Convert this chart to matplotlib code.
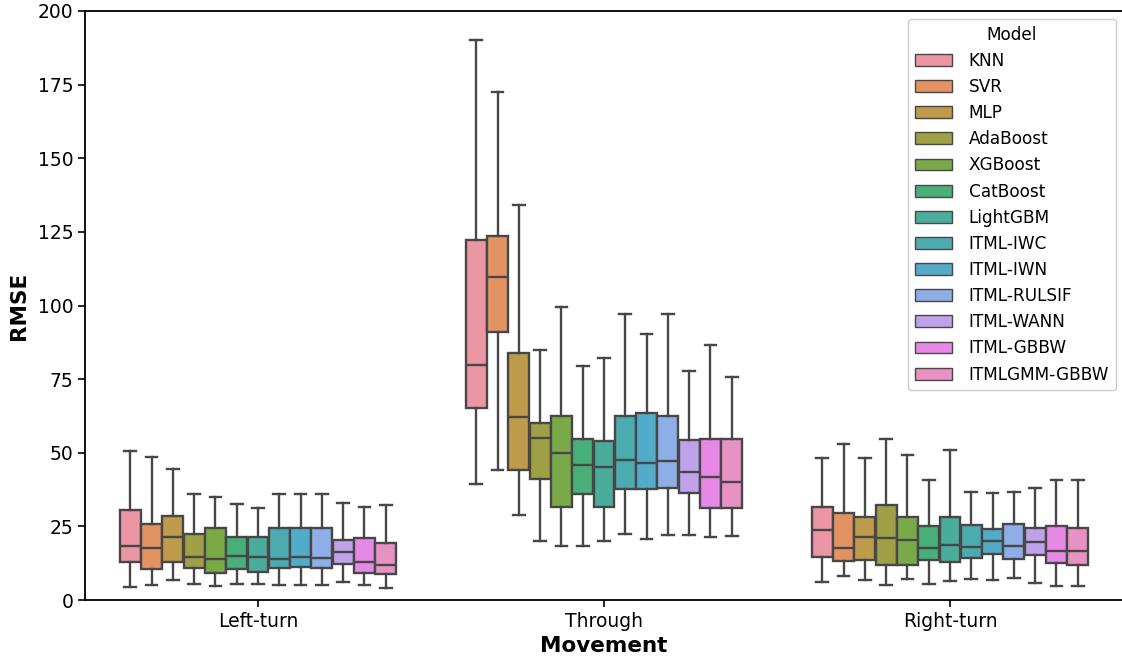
import numpy as np
import matplotlib
matplotlib.use("Agg")
import matplotlib.pyplot as plt
from matplotlib.patches import Patch
import seaborn as sns

movements = ["Left-turn", "Through", "Right-turn"]
models = ["KNN", "SVR", "MLP", "AdaBoost", "XGBoost", "CatBoost", "LightGBM",
          "ITML-IWC", "ITML-IWN", "ITML-RULSIF", "ITML-WANN", "ITML-GBBW",
          "ITMLGMM-GBBW"]

# box statistics per movement, one entry per model: lower whisker, q1, median, q3, upper whisker
left_lo = [4.5, 5.0, 6.9, 5.3, 4.8, 5.4, 5.3, 5.1, 5.1, 5.1, 6.2, 5.0, 4.1]
left_q1 = [12.8, 10.5, 12.9, 11.0, 9.2, 10.6, 9.6, 11.0, 11.3, 11.0, 12.3, 9.3, 8.8]
left_med = [18.2, 17.8, 21.4, 14.6, 13.8, 14.8, 14.6, 13.8, 14.7, 14.2, 16.3, 12.9, 12.0]
left_q3 = [30.7, 25.9, 28.6, 22.4, 24.6, 21.5, 21.3, 24.3, 24.3, 24.3, 20.4, 21.1, 19.5]
left_hi = [50.6, 48.4, 44.5, 35.9, 35.0, 32.5, 31.4, 35.9, 35.9, 35.9, 33.0, 31.5, 32.4]

thru_lo = [39.3, 44.1, 29.0, 20.0, 18.2, 18.2, 20.0, 22.4, 20.7, 22.2, 22.2, 21.4, 21.8]
thru_q1 = [65.2, 90.9, 44.1, 41.2, 31.5, 36.1, 31.7, 37.7, 37.7, 38.1, 36.3, 31.4, 31.1]
thru_med = [79.7, 109.8, 62.0, 54.9, 50.0, 45.9, 45.2, 47.5, 46.5, 47.2, 43.6, 41.8, 40.1]
thru_q3 = [122.2, 123.6, 83.8, 60.2, 62.4, 54.6, 54.0, 62.4, 63.4, 62.4, 54.2, 54.6, 54.6]
thru_hi = [190.2, 172.4, 134.2, 84.8, 99.4, 79.3, 82.1, 97.1, 90.2, 97.2, 77.9, 86.5, 75.8]

right_lo = [6.0, 8.1, 6.9, 5.0, 7.2, 5.4, 6.6, 7.2, 6.8, 7.4, 5.9, 4.8, 4.8]
right_q1 = [14.6, 13.1, 13.7, 12.0, 12.0, 13.5, 12.8, 14.3, 15.5, 14.0, 15.3, 12.7, 11.8]
right_med = [23.9, 17.5, 21.3, 21.2, 20.3, 17.8, 18.6, 18.1, 19.9, 18.3, 19.6, 16.6, 16.6]
right_q3 = [31.6, 29.4, 28.2, 32.2, 28.2, 25.2, 28.2, 25.5, 24.1, 25.7, 24.6, 25.1, 24.6]
right_hi = [48.2, 53.1, 48.2, 54.8, 49.1, 40.9, 50.9, 36.7, 36.2, 36.6, 38.0, 40.6, 40.9]

stats_by_movement = [
    (left_lo, left_q1, left_med, left_q3, left_hi),
    (thru_lo, thru_q1, thru_med, thru_q3, thru_hi),
    (right_lo, right_q1, right_med, right_q3, right_hi),
]

colors = [sns.desaturate(c, 0.75) for c in sns.husl_palette(len(models), l=0.7)]
line_col = "#474747"

fig = plt.figure(figsize=(11.22, 6.6), dpi=100)
ax = fig.add_axes([85 / 1122, 60 / 660, 1038 / 1122, 589 / 660])

n = len(models)
group_w = 0.8
box_w = group_w / n
for g, (lo, q1, med, q3, hi) in enumerate(stats_by_movement):
    for i in range(n):
        pos = g - group_w / 2 + box_w * (i + 0.5)
        st = [dict(whislo=lo[i], q1=q1[i], med=med[i], q3=q3[i], whishi=hi[i], fliers=[])]
        ax.bxp(st, positions=[pos], widths=box_w * 0.98, patch_artist=True,
               showfliers=False, capwidths=box_w * 0.55, manage_ticks=False,
               boxprops=dict(facecolor=colors[i], edgecolor=line_col, linewidth=1.7),
               medianprops=dict(color=line_col, linewidth=1.7),
               whiskerprops=dict(color=line_col, linewidth=1.7),
               capprops=dict(color=line_col, linewidth=1.7))

ax.set_xlim(-0.5, 2.5)
ax.set_ylim(0, 200)
ax.set_yticks(np.arange(0, 201, 25))
ax.set_xticks(range(len(movements)))
ax.set_xticklabels(movements)
ax.tick_params(labelsize=13.5, length=5, width=1.2)
for s in ax.spines.values():
    s.set_linewidth(1.3)
ax.set_xlabel("Movement", fontsize=15.5, fontweight="bold", labelpad=4)
ax.set_ylabel("RMSE", fontsize=15.5, fontweight="bold", labelpad=6)

handles = [Patch(facecolor=c, edgecolor=line_col, linewidth=1.0, label=m)
           for c, m in zip(colors, models)]
ax.legend(handles=handles, title="Model", loc="upper right",
          bbox_to_anchor=(1031 / 1038, 1 - 8 / 589), borderaxespad=0,
          fontsize=12.2, title_fontsize=12.2,
          labelspacing=0.48, handlelength=2.2, handleheight=0.7, handletextpad=1.0,
          framealpha=1, borderpad=0.4)

fig.savefig("out.png", dpi=100)
